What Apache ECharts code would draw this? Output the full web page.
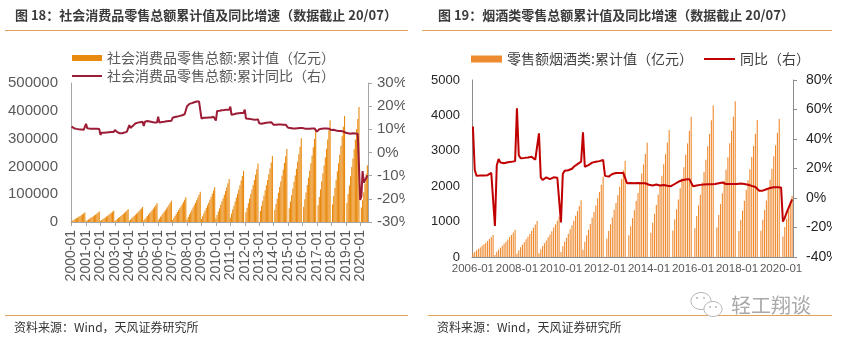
<!DOCTYPE html>
<html><head><meta charset="utf-8">
<script src="https://cdn.jsdelivr.net/npm/echarts@6/dist/echarts.min.js"></script>
<style>
html,body{margin:0;padding:0;background:#fff;}
#bg{position:absolute;left:0;top:0;width:842px;height:344px;}
#c1{position:absolute;left:0;top:0;width:405px;height:344px;}
#c2{position:absolute;left:421px;top:0;width:411px;height:344px;}
</style></head>
<body>
<div id="bg"></div><div id="c1"></div><div id="c2"></div>
<script>
// ---------- Data: left panel (社会消费品零售总额), 2000-01 .. 2020-07 ----------
const leftStart = [2000, 1], leftEnd = [2020, 7];
const retailCum = [
 2900, 5600, 8400, 10900, 13700, 16400, 19000, 21700, 24600, 27700, 30700, 34200,
 3200, 6200, 9200, 12000, 15000, 18000, 20900, 23900, 27100, 30500, 33800, 37600,
 3500, 6800, 10000, 13100, 16400, 19600, 22700, 26000, 29500, 33100, 36800, 40900,
 3900, 7600, 11200, 14700, 18300, 22000, 25400, 29100, 33000, 37100, 41300, 45800,
 4600, 8900, 13200, 17300, 21600, 25900, 29900, 34300, 38800, 43700, 48600, 54000,
 5700, 11100, 16500, 21500, 26900, 32200, 37300, 42700, 48400, 54400, 60500, 67200,
 6500, 12600, 18700, 24500, 30600, 36700, 42400, 48500, 55000, 61900, 68800, 76400,
 7600, 14700, 21900, 28500, 35700, 42800, 49500, 56600, 64200, 72300, 80300, 89200,
 9200, 17900, 26600, 34700, 43400, 52100, 60200, 68900, 78100, 87900, 97600, 108500,
 10700, 20700, 30700, 40100, 50100, 60200, 69600, 79600, 90200, 101500, 112800, 125300,
 13100, 25500, 37900, 49500, 61800, 74200, 85800, 98100, 111300, 125200, 139100, 154600,
 15600, 30300, 45100, 58900, 73600, 88300, 102100, 116800, 132400, 149000, 165500, 183900,
 null, 34700, 51500, 67300, 84100, 100900, 116700, 133500, 151400, 170300, 189300, 210300,
 null, 39200, 58300, 76100, 95100, 114100, 132000, 151000, 171200, 192600, 214000, 237800,
 null, 43300, 64300, 84000, 105000, 125900, 145600, 166600, 188900, 212500, 236200, 262400,
 null, 49700, 73700, 96300, 120400, 144400, 167000, 191100, 216700, 243800, 270800, 300900,
 null, 54800, 81400, 106300, 132900, 159500, 184400, 211000, 239300, 269200, 299100, 332300,
 null, 60400, 89700, 117200, 146500, 175800, 203300, 232600, 263700, 296700, 329600, 366300,
 null, 62900, 93300, 121900, 152400, 182900, 211400, 241900, 274300, 308600, 342900, 381000,
 null, 67900, 100900, 131700, 164700, 197600, 228500, 261400, 296400, 333400, 370500, 413600,
 null, 52100, 78600, 106800, 138700, 172300, 203700
];
const retailYoY = [
 11.2, 10.8, 10.5, 10.3, 10.2, 10.0, 10.0, 9.9, 9.9, 9.9, 9.8, 9.7,
 12.4, 10.5, 10.4, 10.3, 10.3, 10.3, 10.3, 10.3, 10.3, 10.2, 10.2, 10.1,
 7.6, 8.5, 8.5, 8.5, 8.6, 8.6, 8.6, 8.7, 8.7, 8.8, 8.8, 8.8,
 9.7, 9.0, 8.8, 8.5, 8.3, 8.2, 8.3, 8.4, 8.6, 8.8, 9.0, 9.1,
 11.8, 10.6, 11.0, 11.5, 12.0, 12.5, 12.7, 12.9, 13.0, 13.1, 13.2, 13.3,
 11.5, 13.3, 13.6, 13.6, 13.5, 13.4, 13.3, 13.2, 13.0, 12.9, 12.9, 12.9,
 15.5, 12.9, 13.0, 13.2, 13.3, 13.3, 13.4, 13.5, 13.6, 13.6, 13.7, 13.7,
 15.0, 15.2, 15.3, 15.4, 15.5, 15.6, 15.8, 15.9, 16.1, 16.3, 16.5, 16.8,
 20.0, 20.6, 21.0, 21.1, 21.3, 21.5, 21.7, 21.9, 22.0, 22.1, 22.0, 21.6,
 14.7, 15.2, 15.0, 15.0, 15.0, 15.0, 15.1, 15.1, 15.1, 15.2, 15.4, 15.5,
 13.8, 17.9, 17.9, 18.0, 18.1, 18.2, 18.2, 18.3, 18.4, 18.5, 18.6, 18.4,
 19.8, 16.3, 16.3, 16.5, 16.6, 16.8, 16.8, 16.9, 17.0, 17.0, 17.0, 17.1,
 18.5, 14.7, 14.8, 14.6, 14.5, 14.4, 14.3, 14.2, 14.1, 14.1, 14.3, 14.3,
 12.6, 12.3, 12.4, 12.5, 12.6, 12.7, 12.8, 12.9, 13.0, 13.0, 13.1, 13.1,
 12.0, 11.8, 12.0, 12.0, 12.1, 12.1, 12.1, 12.1, 12.0, 12.0, 12.0, 12.0,
 10.7, 10.7, 10.6, 10.4, 10.4, 10.4, 10.4, 10.5, 10.5, 10.6, 10.6, 10.7,
 10.6, 10.2, 10.3, 10.3, 10.2, 10.3, 10.3, 10.3, 10.4, 10.3, 10.4, 10.4,
 9.0, 9.5, 10.0, 10.2, 10.3, 10.4, 10.4, 10.4, 10.4, 10.3, 10.3, 10.2,
 9.7, 9.7, 9.8, 9.7, 9.5, 9.4, 9.3, 9.3, 9.3, 9.2, 9.1, 9.0,
 8.5, 8.2, 8.3, 8.0, 8.1, 8.4, 8.3, 8.2, 8.2, 8.1, 8.0, 8.0,
 -20.5, -19.0, -8.0, -13.0, -12.0, -11.0, -9.9
];
const leftAxisTicks = [0, 100000, 200000, 300000, 400000, 500000];
const leftRightTicks = [-30, -20, -10, 0, 10, 20, 30];

// ---------- Data: right panel (烟酒类), 2006-01 .. 2020-07 ----------
const rightStart = [2006, 1], rightEnd = [2020, 7];
const tobaccoCum = [
 105, 150, 190, 230, 270, 315, 360, 405, 455, 505, 560, 620,
 60, 146, 208, 262, 316, 377, 431, 493, 562, 624, 693, 770,
 92, 194, 275, 347, 418, 500, 571, 653, 745, 826, 918, 1020,
 103, 217, 308, 388, 467, 559, 638, 730, 832, 923, 1026, 1140,
 144, 304, 432, 544, 656, 784, 896, 1024, 1168, 1296, 1440, 1600,
 204, 431, 613, 772, 931, 1112, 1271, 1453, 1657, 1839, 2043, 2270,
 null, 517, 734, 925, 1115, 1333, 1523, 1741, 1986, 2203, 2448, 2720,
 null, 614, 872, 1098, 1324, 1583, 1809, 2067, 2358, 2616, 2907, 3230,
 null, 682, 969, 1221, 1472, 1759, 2010, 2298, 2621, 2908, 3231, 3590,
 null, 752, 1069, 1346, 1624, 1940, 2218, 2534, 2891, 3208, 3564, 3960,
 null, 815, 1158, 1459, 1759, 2102, 2402, 2746, 3132, 3475, 3861, 4290,
 null, 836, 1188, 1496, 1804, 2156, 2464, 2816, 3212, 3564, 3960, 4400,
 null, 735, 1045, 1316, 1587, 1896, 2167, 2477, 2825, 3135, 3483, 3870,
 null, 741, 1053, 1326, 1599, 1911, 2184, 2496, 2847, 3159, 3510, 3900,
 null, 580, 850, 1080, 1300, 1520, 1730
];
const tobaccoYoY = [
 48.5, 19.0, 15.0, 15.0, 15.2, 15.0, 15.2, 15.3, 15.5, 16.0, 17.0, 18.0,
 -19.0, 22.0, 26.5, 24.0, 24.0, 23.5, 24.0, 24.2, 24.5, 24.5, 24.8, 25.0,
 60.8, 29.0, 27.0, 27.2, 27.2, 27.4, 27.5, 27.5, 27.9, 27.9, 26.0, 25.6,
 43.8, 14.0, 12.2, 13.5, 14.0, 14.0, 12.8, 13.5, 14.0, 13.8, 13.8, 14.0,
 -16.5, 16.3, 18.5, 18.5, 18.8, 19.2, 19.8, 21.2, 22.0, 23.0, 24.0, 24.6,
 44.5, 21.2, 22.0, 22.3, 23.0, 24.0, 24.3, 24.6, 24.8, 25.0, 25.5, 25.8,
 15.0, 14.5, 14.5, 15.5, 16.3, 16.8, 17.0, 17.0, 17.0, 17.2, 17.0, 17.0,
 10.0, 10.0, 10.2, 10.0, 10.0, 10.3, 10.2, 10.0, 10.0, 9.8, 10.0, 10.0,
 9.0, 8.1, 8.5, 9.0, 9.2, 8.8, 8.5, 8.5, 8.8, 8.5, 8.3, 8.5,
 8.0, 8.5, 9.5, 10.5, 11.0, 11.5, 12.0, 12.2, 12.5, 12.8, 12.8, 13.0,
 8.0, 7.3, 8.5, 9.0, 8.9, 9.0, 9.2, 9.5, 9.4, 9.3, 9.3, 9.2,
 9.5, 9.5, 10.0, 10.5, 10.5, 10.0, 9.5, 9.2, 9.5, 9.8, 9.5, 9.5,
 9.5, 9.8, 9.8, 9.6, 9.5, 9.2, 9.0, 8.5, 8.2, 8.0, 7.5, 6.6,
 5.0, 4.8, 5.0, 5.5, 5.9, 6.3, 6.8, 7.2, 7.3, 7.3, 7.3, 7.3,
 7.2, -16.0, -13.5, -10.0, -7.0, -4.0, -1.0
];

// ---------- Text ----------
const title1 = '图 18：社会消费品零售总额累计值及同比增速（数据截止 20/07）';
const title2 = '图 19：烟酒类零售总额累计值及同比增速（数据截止 20/07）';
const source = '资料来源：Wind，天风证券研究所';
const leftBarName = '社会消费品零售总额:累计值（亿元）';
const leftLineName = '社会消费品零售总额:累计同比（右）';
const rightBarName = '零售额烟酒类:累计值（亿元）';
const rightLineName = '同比（右）';
const watermark = '轻工翔谈';

function months(s, e) {
  const out = [];
  for (let y = s[0]; y <= e[0]; y++) {
    for (let m = 1; m <= 12; m++) {
      if (y === s[0] && m < s[1]) continue;
      if (y === e[0] && m > e[1]) break;
      out.push(y + '-' + (m < 10 ? '0' + m : m));
    }
  }
  return out;
}
const leftMonths = months(leftStart, leftEnd);
const rightMonths = months(rightStart, rightEnd);

const NUM = "'Liberation Sans', Arial, 'Noto Sans CJK SC', sans-serif";
const CJK = "'Noto Sans CJK SC', 'Liberation Sans', sans-serif";
const orangeRule = '#E2A15B';
const plain = v => String(v);

// ---------- Background: titles, rules, source, watermark ----------
const bg = echarts.init(document.getElementById('bg'));
bg.setOption({
  animation: false,
  graphic: [
    {type:'text', left:15, top:9, style:{text:title1, font:"bold 13px "+CJK, fill:'#3b3b3b'}},
    {type:'text', left:438, top:9, style:{text:title2, font:"bold 13px "+CJK, fill:'#3b3b3b'}},
    {type:'line', shape:{x1:5, y1:30.5, x2:408, y2:30.5}, style:{stroke:orangeRule, lineWidth:1}},
    {type:'line', shape:{x1:422, y1:30.5, x2:832, y2:30.5}, style:{stroke:orangeRule, lineWidth:1}},
    {type:'line', shape:{x1:5, y1:315.5, x2:408, y2:315.5}, style:{stroke:orangeRule, lineWidth:1}},
    {type:'line', shape:{x1:428, y1:315.5, x2:832, y2:315.5}, style:{stroke:orangeRule, lineWidth:1}},
    {type:'text', left:14, top:321, style:{text:source, font:"12px "+CJK, fill:'#333'}},
    {type:'text', left:437, top:321, style:{text:source, font:"12px "+CJK, fill:'#333'}},
    {type:'ellipse', shape:{cx:701, cy:301, rx:10, ry:8.5}, style:{fill:'#fff', stroke:'#b5b5b5', lineWidth:1}},
    {type:'ellipse', shape:{cx:713, cy:309, rx:9, ry:7.5}, style:{fill:'#fff', stroke:'#b5b5b5', lineWidth:1}},
    {type:'circle', shape:{cx:697, cy:298, r:1}, style:{fill:'#b5b5b5'}},
    {type:'circle', shape:{cx:704, cy:298, r:1}, style:{fill:'#b5b5b5'}},
    {type:'circle', shape:{cx:710, cy:307, r:1}, style:{fill:'#b5b5b5'}},
    {type:'circle', shape:{cx:716, cy:307, r:1}, style:{fill:'#b5b5b5'}},
    {type:'text', left:731, top:295, style:{text:watermark, font:"20px "+CJK, fill:'#a9a9a9'}}
  ]
});

// ---------- Left chart ----------
const c1 = echarts.init(document.getElementById('c1'));
c1.setOption({
  animation: false,
  legend: [
    {data:[leftBarName], left:72, top:51, padding:0, icon:'rect', itemWidth:30, itemHeight:6,
     textStyle:{fontSize:14, color:'#595959', fontFamily:CJK}},
    {data:[leftLineName], left:72, top:69, padding:0, icon:'rect', itemWidth:30, itemHeight:2,
     textStyle:{fontSize:14, color:'#595959', fontFamily:CJK}}
  ],
  grid: {left:71, top:83, width:297, height:139, containLabel:false, outerBoundsMode:'none'},
  xAxis: {
    type:'category', data:leftMonths, boundaryGap:true,
    axisLine:{lineStyle:{color:'#A6A6A6'}},
    axisTick:{show:true, interval:11, alignWithLabel:true, length:4, lineStyle:{color:'#A6A6A6'}},
    axisLabel:{interval:11, rotate:90, fontSize:14, color:'#595959', fontFamily:NUM, margin:8,
               hideOverlap:false, showMinLabel:true}
  },
  yAxis: [
    {type:'value', min:leftAxisTicks[0], max:leftAxisTicks[leftAxisTicks.length-1], interval:100000,
     axisLine:{show:true, lineStyle:{color:'#A6A6A6'}}, axisTick:{show:false},
     splitLine:{show:false},
     axisLabel:{fontSize:15, color:'#595959', fontFamily:NUM, margin:13, formatter:plain}},
    {type:'value', min:leftRightTicks[0], max:leftRightTicks[leftRightTicks.length-1], interval:10,
     position:'right',
     axisLine:{show:true, lineStyle:{color:'#A6A6A6'}}, axisTick:{show:true, length:4, lineStyle:{color:'#A6A6A6'}},
     splitLine:{show:false},
     axisLabel:{fontSize:15, color:'#595959', fontFamily:NUM, margin:9, formatter:'{value}%'}}
  ],
  series: [
    {name:leftBarName, type:'bar', data:retailCum, yAxisIndex:0, barCategoryGap:'8%',
     itemStyle:{color:'#E98A10'}},
    {name:leftLineName, type:'line', data:retailYoY, yAxisIndex:1, symbol:'none',
     lineStyle:{color:'#9C1C36', width:2}, itemStyle:{color:'#9C1C36'}}
  ]
});

// ---------- Right chart ----------
const c2 = echarts.init(document.getElementById('c2'));
c2.setOption({
  animation: false,
  legend: [
    {data:[rightBarName], left:50, top:52, padding:0, icon:'rect', itemWidth:31, itemHeight:7,
     textStyle:{fontSize:14, color:'#404040', fontFamily:CJK}},
    {data:[rightLineName], left:283, top:52, padding:0, icon:'rect', itemWidth:31, itemHeight:2,
     textStyle:{fontSize:14, color:'#404040', fontFamily:CJK}}
  ],
  grid: {left:51, top:80, width:321, height:177, containLabel:false, outerBoundsMode:'none'},
  xAxis: {
    type:'category', data:rightMonths, boundaryGap:true,
    axisLine:{lineStyle:{color:'#8C8C8C'}},
    axisTick:{show:false},
    axisLabel:{interval:23, fontSize:11.5, color:'#595959', fontFamily:NUM, margin:6,
               hideOverlap:false, showMinLabel:true}
  },
  yAxis: [
    {type:'value', min:0, max:5000, interval:1000,
     axisLine:{show:true, lineStyle:{color:'#8C8C8C'}}, axisTick:{show:false},
     splitLine:{show:false},
     axisLabel:{fontSize:13, color:'#262626', fontFamily:NUM, margin:12, formatter:plain}},
    {type:'value', min:-40, max:80, interval:20, position:'right',
     axisLine:{show:true, lineStyle:{color:'#8C8C8C'}}, axisTick:{show:true, length:4, lineStyle:{color:'#8C8C8C'}},
     splitLine:{show:false},
     axisLabel:{fontSize:14, color:'#262626', fontFamily:NUM, margin:13, formatter:'{value}%'}}
  ],
  series: [
    {name:rightBarName, type:'bar', data:tobaccoCum, yAxisIndex:0, barCategoryGap:'40%',
     itemStyle:{color:'#EE8A30'}},
    {name:rightLineName, type:'line', data:tobaccoYoY, yAxisIndex:1, symbol:'none',
     lineStyle:{color:'#C00000', width:2}, itemStyle:{color:'#C00000'}}
  ]
});
</script>
</body></html>
